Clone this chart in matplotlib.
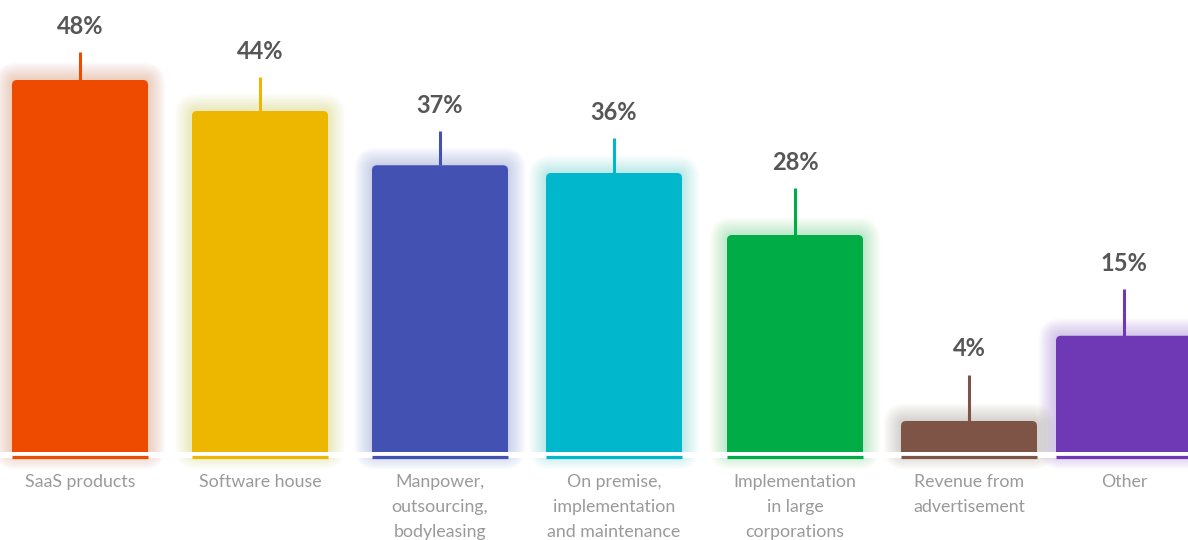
import matplotlib
matplotlib.use("Agg")
from matplotlib import pyplot as plt
from matplotlib.patches import FancyBboxPatch, Rectangle
import matplotlib.colors as mcolors

categories = ["SaaS products", "Software house", "Manpower,\noutsourcing,\nbodyleasing",
              "On premise,\nimplementation\nand maintenance", "Implementation\nin large\ncorporations",
              "Revenue from\nadvertisement", "Other"]
values = [48, 44, 37, 36, 28, 4, 15]
value_labels = ["48%", "44%", "37%", "36%", "28%", "4%", "15%"]
colors = ["#EE4A00", "#EDB700", "#4251B2", "#00B7CB", "#00AC45", "#7E5447", "#6F38B5"]

# layout (pixel based x axis, % based y axis)
xpos = [80, 260, 440, 614, 795, 969, 1124]
bar_w = 136
px_per_pct = 7.75
stem_len = [3.6, 4.4, 4.4, 4.5, 6.0, 6.0, 6.0]

plt.rcParams['font.family'] = ['Lato', 'DejaVu Sans']
fig = plt.figure(figsize=(11.88, 5.4), dpi=100)
ax = fig.add_axes([0, 0, 1, 1])
ax.set_xlim(0, 1188)
ax.set_ylim(-88 / px_per_pct, (540 - 88) / px_per_pct)
ax.axis('off')

aspect = 1 / px_per_pct

for x, v, c, s, lab, cat in zip(xpos, values, colors, stem_len, value_labels, categories):
    left = x - bar_w / 2
    # soft glow
    glow = mcolors.to_rgb(c)
    for k in range(22, 0, -1):
        ax.add_patch(FancyBboxPatch((left, 0), bar_w, v,
                                    boxstyle=f"round,pad={k * 0.8},rounding_size={5 + k * 0.8}",
                                    mutation_aspect=aspect, facecolor=glow, edgecolor='none',
                                    alpha=0.01, zorder=1))
    ax.add_patch(FancyBboxPatch((left, 0), bar_w, v, boxstyle="round,pad=0,rounding_size=5",
                                mutation_aspect=aspect, facecolor=c, edgecolor='none', zorder=3))
    ax.add_patch(Rectangle((left, 0), bar_w, v / 2, facecolor=c, edgecolor='none', zorder=3))
    # white gap + baseline
    ax.add_patch(Rectangle((left - 25, -0.75), bar_w + 50, 0.75, facecolor='white',
                           edgecolor='none', zorder=2))
    ax.hlines(-0.62, left, left + bar_w, colors=c, linewidth=2.3, zorder=4)
    # stem
    ax.vlines(x, v, v + s, colors=c, linewidth=2.2, zorder=4)
    ax.text(x, v + s + 14 / px_per_pct, lab, ha='center', va='bottom', fontsize=17,
            fontweight='bold', color='#565656', zorder=5)
    ax.text(x, -22 / px_per_pct, cat, ha='center', va='top', fontsize=12.8,
            color='#9A9A9A', linespacing=1.68, zorder=5)

fig.savefig('out.png', dpi=100)
